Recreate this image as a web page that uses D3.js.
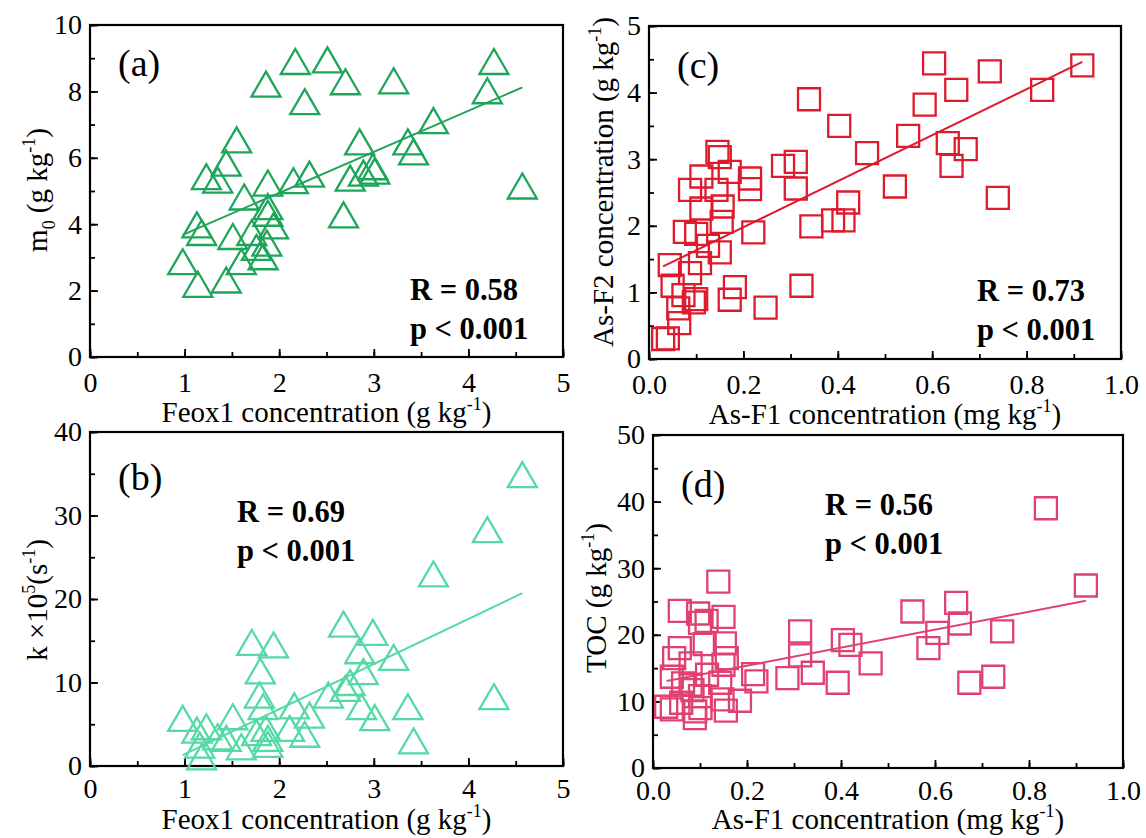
<!DOCTYPE html>
<html>
<head>
<meta charset="utf-8">
<script src="https://cdn.jsdelivr.net/npm/d3@7"></script>
<style>
  body { margin: 0; background: #fff; }
  svg text { font-family: "Liberation Serif", "Times New Roman", "DejaVu Serif", serif; }
</style>
</head>
<body>
<svg id="container" width="1146" height="838"></svg>
<script>
// ---- data: [x, y] pairs per panel
const feoxM0 = [
  [0.98,2.87],[1.13,3.98],[1.14,2.19],[1.18,3.75],[1.23,5.43],[1.35,5.33],[1.44,5.84],[1.44,2.32],
  [1.51,3.63],[1.55,6.54],[1.60,2.87],[1.63,4.82],[1.71,3.75],[1.76,3.30],[1.83,3.02],[1.86,8.22],
  [1.87,3.43],[1.88,5.24],[1.88,4.53],[1.88,4.33],[1.94,3.95],[2.15,5.31],[2.17,8.90],[2.27,7.69],
  [2.32,5.51],[2.51,8.95],[2.68,4.28],[2.70,8.29],[2.75,5.39],[2.85,6.48],[2.89,5.54],[2.99,5.73],
  [3.01,5.60],[3.21,8.32],[3.36,6.48],[3.42,6.18],[3.63,7.12],[4.20,8.02],[4.27,8.90],[4.57,5.15]
];
const feoxK = [
  [4.57,34.9],[4.20,28.3],[3.63,23.0],[2.68,17.0],[2.99,16.0],[1.71,14.8],[1.94,14.5],[2.85,13.8],
  [3.21,13.0],[1.80,11.4],[2.89,11.3],[2.75,10.0],[1.79,8.5],[2.52,8.5],[2.70,9.3],[4.27,8.3],
  [1.83,7.1],[2.87,7.1],[3.36,7.1],[2.16,7.2],[2.32,6.1],[3.01,5.8],[0.98,5.7],[1.51,5.9],
  [2.11,4.5],[2.27,3.8],[1.86,4.5],[1.23,4.7],[1.13,4.3],[3.42,3.0],[1.44,3.3],[1.60,2.3],
  [1.18,1.1],[1.35,3.5],[1.76,4.0],[1.16,2.5],[1.88,3.3],[1.88,2.6]
];
const asF1F2 = [
  [0.604,4.44],[0.722,4.32],[0.651,4.04],[0.833,4.04],[0.918,4.41],[0.339,3.90],[0.584,3.82],[0.403,3.50],
  [0.549,3.35],[0.633,3.24],[0.671,3.15],[0.641,2.90],[0.462,3.09],[0.145,3.11],[0.150,3.03],[0.311,2.96],
  [0.284,2.90],[0.311,2.56],[0.521,2.59],[0.739,2.42],[0.171,2.81],[0.111,2.74],[0.214,2.71],[0.214,2.55],
  [0.087,2.54],[0.143,2.54],[0.111,2.26],[0.156,2.29],[0.154,2.06],[0.422,2.35],[0.390,2.08],[0.412,2.08],
  [0.344,1.99],[0.221,1.90],[0.076,1.91],[0.100,1.88],[0.150,1.60],[0.108,1.44],[0.044,1.41],[0.087,1.29],
  [0.182,1.08],[0.171,0.89],[0.323,1.10],[0.247,0.77],[0.073,0.96],[0.100,0.90],[0.062,0.76],[0.064,0.54],
  [0.030,0.30],[0.040,0.31],[0.050,1.10],[0.125,1.70],[0.095,0.85]
];
const asF1Toc = [
  [0.139,27.97],[0.057,23.6],[0.096,23.2],[0.114,22.1],[0.150,22.7],[0.100,21.8],[0.552,23.5],[0.645,24.8],
  [0.653,21.7],[0.605,20.3],[0.586,18.0],[0.743,20.5],[0.313,20.5],[0.404,19.2],[0.420,18.5],[0.463,15.7],
  [0.313,16.9],[0.340,14.3],[0.286,13.5],[0.393,12.8],[0.673,12.8],[0.724,13.7],[0.213,14.1],[0.220,13.0],
  [0.110,18.6],[0.153,18.7],[0.057,18.0],[0.045,16.5],[0.157,16.5],[0.150,15.5],[0.080,15.7],[0.040,13.7],
  [0.064,12.7],[0.143,12.8],[0.115,14.0],[0.084,11.7],[0.100,10.8],[0.185,10.1],[0.148,10.3],[0.028,9.2],
  [0.040,8.8],[0.101,9.0],[0.090,8.5],[0.089,7.5],[0.155,8.6],[0.060,9.8],[0.080,12.5],[0.836,39.0],
  [0.921,27.4]
];

// fitted lines (end points)
const fitA = [[0.98,3.68],[4.57,8.12]];
const fitB = [[0.98,1.3],[4.57,20.7]];
const fitC = [[0.03,1.39],[0.918,4.46]];
const fitD = [[0.029,13.06],[0.921,25.1]];

// stats labels
const statsA = ["R = 0.58", "p < 0.001"];
const statsB = ["R = 0.69", "p < 0.001"];
const statsC = ["R = 0.73", "p < 0.001"];
const statsD = ["R = 0.56", "p < 0.001"];

// tick values
const feoxTicks = [0,1,2,3,4,5];
const asTicks = [0,0.2,0.4,0.6,0.8,1.0];
const m0Ticks = [0,2,4,6,8,10];
const kTicks = [0,10,20,30,40];
const f2Ticks = [0,1,2,3,4,5];
const tocTicks = [0,10,20,30,40,50];

const FONT = "'Liberation Serif', 'Times New Roman', 'DejaVu Serif', serif";
const svg = d3.select("#container");

const TRI_W = 29, TRI_H = 25, SQ = 22;
const triPath = `M0,${-TRI_H/2}L${TRI_W/2},${TRI_H/2}L${-TRI_W/2},${TRI_H/2}Z`;
const sqPath = `M${-SQ/2},${-SQ/2}h${SQ}v${SQ}h${-SQ}Z`;

// write text made of segments, some super/subscripted
function richText(sel, segs, size) {
    let shift = 0;
    segs.forEach(s => {
        let t = sel.append("tspan").text(s.t);
        let target = s.sup ? -size*0.42 : (s.sub ? size*0.28 : 0);
        t.attr("dy", target - shift).attr("font-size", s.sup || s.sub ? size*0.62 : size);
        shift = target;
    });
}

function drawPanel(p) {
    let x = d3.scaleLinear().domain(p.xDomain).range([p.left, p.right]);
    let y = d3.scaleLinear().domain(p.yDomain).range([p.bottom, p.top]);
    let g = svg.append("g");

    // minor ticks
    let xMinor = d3.range(p.xDomain[0], p.xDomain[1] + 1e-9, p.xMinor);
    let yMinor = d3.range(p.yDomain[0], p.yDomain[1] + 1e-9, p.yMinor);
    g.append("g").attr("transform", `translate(0,${p.bottom})`)
        .call(d3.axisBottom(x).tickValues(xMinor).tickSize(-5).tickFormat(""));
    g.append("g").attr("transform", `translate(${p.left},0)`)
        .call(d3.axisLeft(y).tickValues(yMinor).tickSize(-5).tickFormat(""));

    // major ticks + labels
    g.append("g").attr("class", "xaxis").attr("transform", `translate(0,${p.bottom})`)
        .call(d3.axisBottom(x).tickValues(p.xTicks).tickSize(-8).tickPadding(p.xPad).tickFormat(p.xFmt));
    g.append("g").attr("class", "yaxis").attr("transform", `translate(${p.left},0)`)
        .call(d3.axisLeft(y).tickValues(p.yTicks).tickSize(-8).tickPadding(8).tickFormat(p.yFmt));

    g.selectAll("g").attr("font-family", FONT).attr("font-size", null);
    g.selectAll(".domain").remove();
    g.selectAll(".tick line").attr("stroke", "#000").attr("stroke-width", 1.8);
    g.selectAll(".tick text").attr("fill", "#000").attr("font-size", 28).attr("font-family", FONT);

    // frame
    g.append("rect")
        .attr("x", p.left).attr("y", p.top)
        .attr("width", p.right - p.left).attr("height", p.bottom - p.top)
        .attr("fill", "none").attr("stroke", "#000").attr("stroke-width", 2.2);

    // fitted line
    g.append("path").datum(p.fit)
        .attr("d", d3.line().x(d => x(d[0])).y(d => y(d[1])))
        .attr("fill", "none").attr("stroke", p.color).attr("stroke-width", 2);

    // markers
    g.append("g").selectAll("path")
        .data(p.data).enter()
        .append("path")
        .attr("d", p.marker)
        .attr("transform", d => `translate(${x(d[0])},${y(d[1])})`)
        .attr("fill", "none")
        .attr("stroke", p.color)
        .attr("stroke-width", 2.3);

    // panel letter
    g.append("text").attr("x", p.left + 28).attr("y", p.letterY)
        .attr("font-family", FONT).attr("font-size", 38).text(p.letter);

    // stats
    p.stats.forEach((s, i) => {
        g.append("text").attr("x", p.statsX).attr("y", p.statsY + i * 39)
            .attr("font-family", FONT).attr("font-size", 30.5).attr("font-weight", "bold").text(s);
    });

    // axis titles
    let xt = g.append("text").attr("x", (p.left + p.right) / 2).attr("y", p.xTitleY)
        .attr("font-family", FONT).attr("text-anchor", "middle");
    richText(xt, p.xTitle, 29);
    let yt = g.append("text").attr("font-family", FONT).attr("text-anchor", "middle")
        .attr("transform", `translate(${p.yTitleX},${p.yTitleY}) rotate(-90)`);
    richText(yt, p.yTitle, 29);
}

const fmtInt = d3.format("d");
const fmt1 = d3.format(".1f");

drawPanel({
    left: 90, right: 563, top: 25, bottom: 357,
    xDomain: [0,5], yDomain: [0,10], xTicks: feoxTicks, yTicks: m0Ticks, xMinor: 0.5, yMinor: 1,
    xFmt: fmtInt, yFmt: fmtInt, xPad: 15, data: feoxM0, fit: fitA, color: "#1da55a", marker: triPath,
    letter: "(a)", letterY: 76, stats: statsA, statsX: 410, statsY: 300,
    xTitle: [{t:"Feox1 concentration (g kg"},{t:"-1",sup:true},{t:")"}], xTitleY: 422,
    yTitle: [{t:"m"},{t:"0",sub:true},{t:" (g kg"},{t:"-1",sup:true},{t:")"}],
    yTitleX: 47, yTitleY: 190
});
drawPanel({
    left: 90, right: 563, top: 432, bottom: 766,
    xDomain: [0,5], yDomain: [0,40], xTicks: feoxTicks, yTicks: kTicks, xMinor: 0.5, yMinor: 5,
    xFmt: fmtInt, yFmt: fmtInt, xPad: 12, data: feoxK, fit: fitB, color: "#55d9a6", marker: triPath,
    letter: "(b)", letterY: 490, stats: statsB, statsX: 237, statsY: 522,
    xTitle: [{t:"Feox1 concentration (g kg"},{t:"-1",sup:true},{t:")"}], xTitleY: 829,
    yTitle: [{t:"k \u00d710"},{t:"5",sup:true},{t:"(s"},{t:"-1",sup:true},{t:")"}],
    yTitleX: 47, yTitleY: 600
});
drawPanel({
    left: 649, right: 1121, top: 26, bottom: 359,
    xDomain: [0,1], yDomain: [0,5], xTicks: asTicks, yTicks: f2Ticks, xMinor: 0.1, yMinor: 0.5,
    xFmt: fmt1, yFmt: fmtInt, xPad: 15, data: asF1F2, fit: fitC, color: "#de1a2c", marker: sqPath,
    letter: "(c)", letterY: 78, stats: statsC, statsX: 977, statsY: 301,
    xTitle: [{t:"As-F1 concentration (mg kg"},{t:"-1",sup:true},{t:")"}], xTitleY: 424,
    yTitle: [{t:"As-F2 concentration (g kg"},{t:"-1",sup:true},{t:")"}],
    yTitleX: 613, yTitleY: 182
});
drawPanel({
    left: 653, right: 1123, top: 435, bottom: 768,
    xDomain: [0,1], yDomain: [0,50], xTicks: asTicks, yTicks: tocTicks, xMinor: 0.1, yMinor: 5,
    xFmt: fmt1, yFmt: fmtInt, xPad: 12, data: asF1Toc, fit: fitD, color: "#df4171", marker: sqPath,
    letter: "(d)", letterY: 497, stats: statsD, statsX: 825, statsY: 515,
    xTitle: [{t:"As-F1 concentration (mg kg"},{t:"-1",sup:true},{t:")"}], xTitleY: 829,
    yTitle: [{t:"TOC (g kg"},{t:"-1",sup:true},{t:")"}],
    yTitleX: 606, yTitleY: 598
});
</script>
</body>
</html>
